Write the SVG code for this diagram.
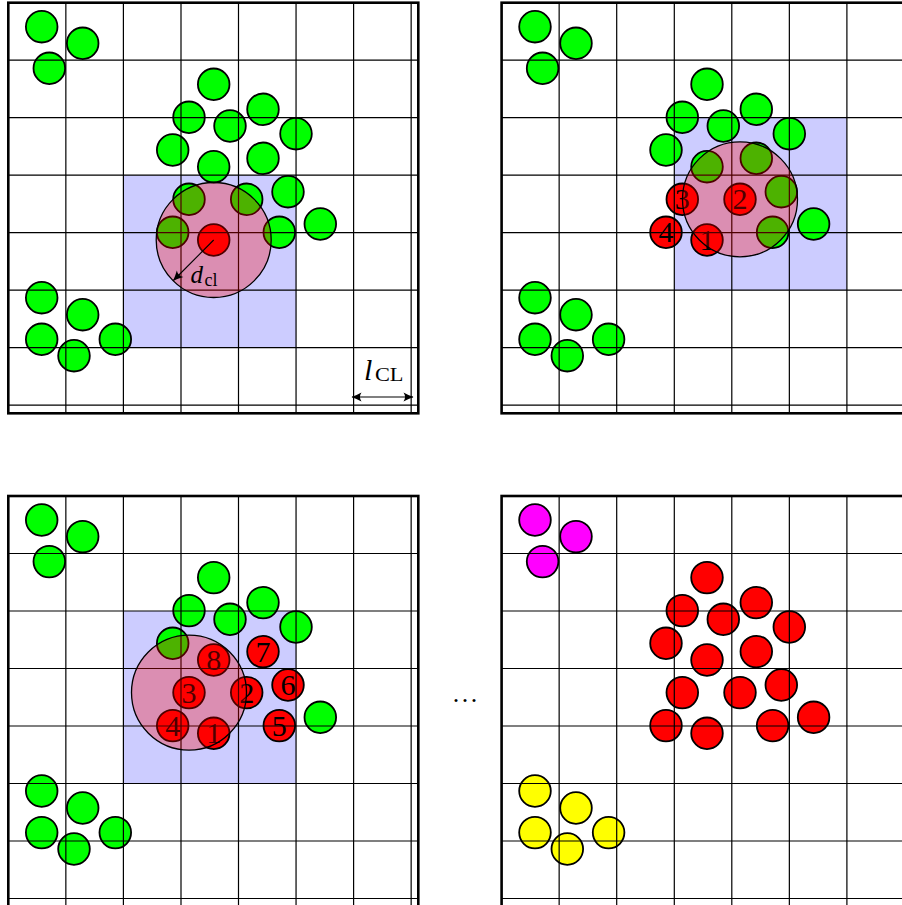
<svg xmlns="http://www.w3.org/2000/svg" xmlns:xlink="http://www.w3.org/1999/xlink" width="902" height="905" viewBox="0 0 902 905">
<style>
.bg{fill:#fff}
.c{stroke:#000;stroke-width:1.8}
.g{fill:#00ff00}
.r{fill:#ff0000}
.m{fill:#ff00ff}
.y{fill:#ffff00}
.blue{fill:#ccccff}
.pink{fill:#ff0000;fill-opacity:0.3;stroke:#000;stroke-width:1.3}
.grid{fill:none;stroke:#000;stroke-width:1.2}
.frame{fill:none;stroke:#000;stroke-width:2.6}
.num{font-family:"Liberation Serif","Times New Roman",serif;font-size:30px;text-anchor:middle;fill:#000}
.lab{font-family:"Liberation Serif","Times New Roman",serif;fill:#000}
.arr{stroke:#000;stroke-width:1.1;fill:none}
</style>
<defs>
<g id="grid">
<path class="grid" d="M65.85,2.7V413.3M123.4,2.7V413.3M181,2.7V413.3M238.5,2.7V413.3M296.05,2.7V413.3M353.6,2.7V413.3M411.15,2.7V413.3M8.3,60.2H418.3M8.3,117.7H418.3M8.3,175.2H418.3M8.3,232.7H418.3M8.3,290.2H418.3M8.3,347.7H418.3M8.3,405.2H418.3"/>
<rect class="frame" x="8.3" y="2.7" width="410" height="410.6"/>
</g>
<marker id="ah" viewBox="-10 -6 12 12" refX="0" refY="0" markerWidth="12" markerHeight="12" markerUnits="userSpaceOnUse" orient="auto-start-reverse">
<path d="M0.5,0 Q-4.5,-1.8 -9.5,-4.6 Q-6.4,0 -9.5,4.6 Q-4.5,1.8 0.5,0 Z" fill="#000"/>
</marker>
</defs>
<rect class="bg" x="0" y="0" width="902" height="905"/>

<!-- Panel top-left -->
<g id="panel-tl">
<rect class="blue" x="123.4" y="175.2" width="172.65" height="172.5"/>
<g id="tl-c1"><circle class="c g" cx="41.7" cy="26.7" r="15.8"/></g>
<g id="tl-c2"><circle class="c g" cx="82.7" cy="43.3" r="15.8"/></g>
<g id="tl-c3"><circle class="c g" cx="49.3" cy="68.3" r="15.8"/></g>
<g id="tl-c4"><circle class="c g" cx="213.7" cy="84.3" r="15.8"/></g>
<g id="tl-c5"><circle class="c g" cx="189" cy="117.3" r="15.8"/></g>
<g id="tl-c6"><circle class="c g" cx="263" cy="109.3" r="15.8"/></g>
<g id="tl-c7"><circle class="c g" cx="230" cy="126" r="15.8"/></g>
<g id="tl-c8"><circle class="c g" cx="296" cy="133.7" r="15.8"/></g>
<g id="tl-c9"><circle class="c g" cx="172.7" cy="150" r="15.8"/></g>
<g id="tl-c10"><circle class="c g" cx="213.7" cy="166.7" r="15.8"/></g>
<g id="tl-c11"><circle class="c g" cx="263" cy="158.3" r="15.8"/></g>
<g id="tl-c12"><circle class="c g" cx="189" cy="199.3" r="15.8"/></g>
<g id="tl-c13"><circle class="c g" cx="246.7" cy="199.3" r="15.8"/></g>
<g id="tl-c14"><circle class="c g" cx="288" cy="191.7" r="15.8"/></g>
<g id="tl-c15"><circle class="c g" cx="172.7" cy="232.3" r="15.8"/></g>
<g id="tl-c16"><circle class="c r" cx="213.7" cy="240" r="15.8"/></g>
<g id="tl-c17"><circle class="c g" cx="279.3" cy="232.3" r="15.8"/></g>
<g id="tl-c18"><circle class="c g" cx="320.3" cy="224" r="15.8"/></g>
<g id="tl-c19"><circle class="c g" cx="41.7" cy="297.7" r="15.8"/></g>
<g id="tl-c20"><circle class="c g" cx="82.7" cy="314.7" r="15.8"/></g>
<g id="tl-c21"><circle class="c g" cx="41.7" cy="339.3" r="15.8"/></g>
<g id="tl-c22"><circle class="c g" cx="74" cy="355.7" r="15.8"/></g>
<g id="tl-c23"><circle class="c g" cx="115.3" cy="339.3" r="15.8"/></g>
<use xlink:href="#grid" href="#grid"/>
<g id="tl-range"><circle class="pink" cx="213.7" cy="240" r="57.5"/></g>
<g id="tl-dcl-label"><text class="lab" x="190.5" y="282.5" font-size="25" font-style="italic">d</text><text class="lab" x="204.5" y="285.5" font-size="18">cl</text></g>
<g id="tl-lcl-label"><text class="lab" x="364" y="380" font-size="30" font-style="italic">l</text><text class="lab" x="375" y="381" font-size="19" textLength="28.5" lengthAdjust="spacingAndGlyphs">CL</text></g>
</g>

<!-- Panel top-right -->
<g id="panel-tr" transform="translate(493.3,0)">
<rect class="blue" x="181" y="117.7" width="172.6" height="172.5"/>
<g id="tr-c1"><circle class="c g" cx="41.7" cy="26.7" r="15.8"/></g>
<g id="tr-c2"><circle class="c g" cx="82.7" cy="43.3" r="15.8"/></g>
<g id="tr-c3"><circle class="c g" cx="49.3" cy="68.3" r="15.8"/></g>
<g id="tr-c4"><circle class="c g" cx="213.7" cy="84.3" r="15.8"/></g>
<g id="tr-c5"><circle class="c g" cx="189" cy="117.3" r="15.8"/></g>
<g id="tr-c6"><circle class="c g" cx="263" cy="109.3" r="15.8"/></g>
<g id="tr-c7"><circle class="c g" cx="230" cy="126" r="15.8"/></g>
<g id="tr-c8"><circle class="c g" cx="296" cy="133.7" r="15.8"/></g>
<g id="tr-c9"><circle class="c g" cx="172.7" cy="150" r="15.8"/></g>
<g id="tr-c10"><circle class="c g" cx="213.7" cy="166.7" r="15.8"/></g>
<g id="tr-c11"><circle class="c g" cx="263" cy="158.3" r="15.8"/></g>
<g id="tr-c12"><circle class="c r" cx="189" cy="199.3" r="15.8"/><text class="num" x="189" y="209.4">3</text></g>
<g id="tr-c13"><circle class="c r" cx="246.7" cy="199.3" r="15.8"/><text class="num" x="246.7" y="209.4">2</text></g>
<g id="tr-c14"><circle class="c g" cx="288" cy="191.7" r="15.8"/></g>
<g id="tr-c15"><circle class="c r" cx="172.7" cy="232.3" r="15.8"/><text class="num" x="172.7" y="242.4">4</text></g>
<g id="tr-c16"><circle class="c r" cx="213.7" cy="240" r="15.8"/><text class="num" x="213.7" y="250.1">1</text></g>
<g id="tr-c17"><circle class="c g" cx="279.3" cy="232.3" r="15.8"/></g>
<g id="tr-c18"><circle class="c g" cx="320.3" cy="224" r="15.8"/></g>
<g id="tr-c19"><circle class="c g" cx="41.7" cy="297.7" r="15.8"/></g>
<g id="tr-c20"><circle class="c g" cx="82.7" cy="314.7" r="15.8"/></g>
<g id="tr-c21"><circle class="c g" cx="41.7" cy="339.3" r="15.8"/></g>
<g id="tr-c22"><circle class="c g" cx="74" cy="355.7" r="15.8"/></g>
<g id="tr-c23"><circle class="c g" cx="115.3" cy="339.3" r="15.8"/></g>
<use xlink:href="#grid" href="#grid"/>
<g id="tr-range"><circle class="pink" cx="246.7" cy="199.3" r="57.5"/></g>
</g>

<!-- Panel bottom-left -->
<g id="panel-bl" transform="translate(0,493.3)">
<rect class="blue" x="123.4" y="117.7" width="172.65" height="172.5"/>
<g id="bl-c1"><circle class="c g" cx="41.7" cy="26.7" r="15.8"/></g>
<g id="bl-c2"><circle class="c g" cx="82.7" cy="43.3" r="15.8"/></g>
<g id="bl-c3"><circle class="c g" cx="49.3" cy="68.3" r="15.8"/></g>
<g id="bl-c4"><circle class="c g" cx="213.7" cy="84.3" r="15.8"/></g>
<g id="bl-c5"><circle class="c g" cx="189" cy="117.3" r="15.8"/></g>
<g id="bl-c6"><circle class="c g" cx="263" cy="109.3" r="15.8"/></g>
<g id="bl-c7"><circle class="c g" cx="230" cy="126" r="15.8"/></g>
<g id="bl-c8"><circle class="c g" cx="296" cy="133.7" r="15.8"/></g>
<g id="bl-c9"><circle class="c g" cx="172.7" cy="150" r="15.8"/></g>
<g id="bl-c10"><circle class="c r" cx="213.7" cy="166.7" r="15.8"/><text class="num" x="213.7" y="176.8">8</text></g>
<g id="bl-c11"><circle class="c r" cx="263" cy="158.3" r="15.8"/><text class="num" x="263" y="168.4">7</text></g>
<g id="bl-c12"><circle class="c r" cx="189" cy="199.3" r="15.8"/><text class="num" x="189" y="209.4">3</text></g>
<g id="bl-c13"><circle class="c r" cx="246.7" cy="199.3" r="15.8"/><text class="num" x="246.7" y="209.4">2</text></g>
<g id="bl-c14"><circle class="c r" cx="288" cy="191.7" r="15.8"/><text class="num" x="288" y="201.8">6</text></g>
<g id="bl-c15"><circle class="c r" cx="172.7" cy="232.3" r="15.8"/><text class="num" x="172.7" y="242.4">4</text></g>
<g id="bl-c16"><circle class="c r" cx="213.7" cy="240" r="15.8"/><text class="num" x="213.7" y="250.1">1</text></g>
<g id="bl-c17"><circle class="c r" cx="279.3" cy="232.3" r="15.8"/><text class="num" x="279.3" y="242.4">5</text></g>
<g id="bl-c18"><circle class="c g" cx="320.3" cy="224" r="15.8"/></g>
<g id="bl-c19"><circle class="c g" cx="41.7" cy="297.7" r="15.8"/></g>
<g id="bl-c20"><circle class="c g" cx="82.7" cy="314.7" r="15.8"/></g>
<g id="bl-c21"><circle class="c g" cx="41.7" cy="339.3" r="15.8"/></g>
<g id="bl-c22"><circle class="c g" cx="74" cy="355.7" r="15.8"/></g>
<g id="bl-c23"><circle class="c g" cx="115.3" cy="339.3" r="15.8"/></g>
<use xlink:href="#grid" href="#grid"/>
<g id="bl-range"><circle class="pink" cx="189" cy="199.3" r="57.5"/></g>
</g>

<!-- Panel bottom-right -->
<g id="panel-br" transform="translate(493.3,493.3)">
<g id="br-c1"><circle class="c m" cx="41.7" cy="26.7" r="15.8"/></g>
<g id="br-c2"><circle class="c m" cx="82.7" cy="43.3" r="15.8"/></g>
<g id="br-c3"><circle class="c m" cx="49.3" cy="68.3" r="15.8"/></g>
<g id="br-c4"><circle class="c r" cx="213.7" cy="84.3" r="15.8"/></g>
<g id="br-c5"><circle class="c r" cx="189" cy="117.3" r="15.8"/></g>
<g id="br-c6"><circle class="c r" cx="263" cy="109.3" r="15.8"/></g>
<g id="br-c7"><circle class="c r" cx="230" cy="126" r="15.8"/></g>
<g id="br-c8"><circle class="c r" cx="296" cy="133.7" r="15.8"/></g>
<g id="br-c9"><circle class="c r" cx="172.7" cy="150" r="15.8"/></g>
<g id="br-c10"><circle class="c r" cx="213.7" cy="166.7" r="15.8"/></g>
<g id="br-c11"><circle class="c r" cx="263" cy="158.3" r="15.8"/></g>
<g id="br-c12"><circle class="c r" cx="189" cy="199.3" r="15.8"/></g>
<g id="br-c13"><circle class="c r" cx="246.7" cy="199.3" r="15.8"/></g>
<g id="br-c14"><circle class="c r" cx="288" cy="191.7" r="15.8"/></g>
<g id="br-c15"><circle class="c r" cx="172.7" cy="232.3" r="15.8"/></g>
<g id="br-c16"><circle class="c r" cx="213.7" cy="240" r="15.8"/></g>
<g id="br-c17"><circle class="c r" cx="279.3" cy="232.3" r="15.8"/></g>
<g id="br-c18"><circle class="c r" cx="320.3" cy="224" r="15.8"/></g>
<g id="br-c19"><circle class="c y" cx="41.7" cy="297.7" r="15.8"/></g>
<g id="br-c20"><circle class="c y" cx="82.7" cy="314.7" r="15.8"/></g>
<g id="br-c21"><circle class="c y" cx="41.7" cy="339.3" r="15.8"/></g>
<g id="br-c22"><circle class="c y" cx="74" cy="355.7" r="15.8"/></g>
<g id="br-c23"><circle class="c y" cx="115.3" cy="339.3" r="15.8"/></g>
<use xlink:href="#grid" href="#grid"/>
</g>

<g id="ellipsis"><text class="lab" font-size="26" x="452.8 461.8 470.8" y="702">...</text></g>

<g id="connectors">
<line class="arr" x1="213.7" y1="240" x2="173.4" y2="280.5" marker-end="url(#ah)"/>
<line class="arr" x1="352" y1="397" x2="413" y2="397" marker-start="url(#ah)" marker-end="url(#ah)"/>
</g>
</svg>
